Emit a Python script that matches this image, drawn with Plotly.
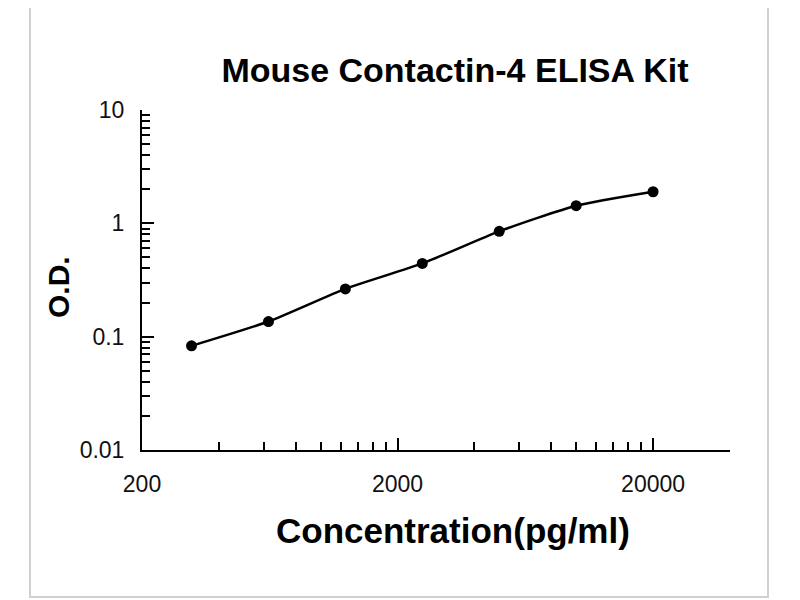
import plotly.graph_objects as go

# standard curve points
conc = [312.5, 625, 1250, 2500, 5000, 10000, 20000]
od = [0.083, 0.136, 0.264, 0.443, 0.85, 1.43, 1.90]

# axis ticks (Excel style log axis, base 200)
x_major = [200, 2000, 20000]
x_labels = ["200", "2000", "20000"]
x_minor = [400, 600, 800, 1000, 1200, 1400, 1600, 1800,
           4000, 6000, 8000, 10000, 12000, 14000, 16000, 18000, 40000]

y_major = [0.01, 0.1, 1, 10]
y_labels = ["0.01", "0.1", "1", "10"]
y_minor = [0.02, 0.03, 0.04, 0.05, 0.06, 0.07, 0.08, 0.09,
           0.2, 0.3, 0.4, 0.5, 0.6, 0.7, 0.8, 0.9,
           2, 3, 4, 5, 6, 7, 8, 9]

# page has an 8px body margin, so the figure is 792x592
OFF = 8
W, H = 800 - OFF, 600 - OFF
L, T = 142 - OFF, 110 - OFF
R, B = W - (730 - OFF), H - (450 - OFF)
PW, PH = W - L - R, H - T - B


def px(x):
    return (x - OFF - L) / PW


def py(y):
    return (H - B - (y - OFF)) / PH


fig = go.Figure()
fig.add_trace(go.Scatter(
    x=conc, y=od,
    mode="lines+markers",
    line=dict(color="black", width=2.5, shape="spline", smoothing=0.6),
    marker=dict(color="black", size=11),
    showlegend=False))

tickfont = dict(family="Liberation Sans, Arial", size=23, color="#111")
boldfont = "Liberation Sans, Arial"

axis_style = dict(
    type="log",
    ticks="inside", ticklen=12, tickwidth=2, tickcolor="black",
    showline=True, linecolor="black", linewidth=2,
    showgrid=False, zeroline=False,
    tickfont=tickfont)

fig.update_xaxes(
    range=[2.30103, 4.60206],
    tickvals=x_major, ticktext=x_labels,
    minor=dict(tickmode="array", tickvals=x_minor, ticks="inside",
               ticklen=8, tickwidth=2, tickcolor="black", showgrid=False),
    ticklabelstandoff=12, **axis_style)

fig.update_yaxes(
    range=[-2, 1],
    tickvals=y_major, ticktext=y_labels,
    minor=dict(tickmode="array", tickvals=y_minor, ticks="inside",
               ticklen=8, tickwidth=2, tickcolor="black", showgrid=False),
    ticklabelstandoff=11, **axis_style)

fig.update_layout(
    width=W, height=H,
    margin=dict(l=L, r=R, t=T, b=B),
    paper_bgcolor="white", plot_bgcolor="white",
    title=dict(text="<b>Mouse Contactin-4 ELISA Kit</b>",
               font=dict(family=boldfont, size=34, color="black"),
               x=(455 - OFF) / W, xanchor="center",
               y=1 - (70 - OFF) / H, yanchor="middle"),
    annotations=[
        dict(text="<b>Concentration(pg/ml)</b>", xref="paper", yref="paper",
             x=px(453), y=py(530), xanchor="center", yanchor="middle",
             showarrow=False, font=dict(family=boldfont, size=35, color="black")),
        dict(text="<b>O.D.</b>", xref="paper", yref="paper", textangle=-90,
             x=px(58), y=py(287), xanchor="center", yanchor="middle",
             showarrow=False, font=dict(family=boldfont, size=30, color="black")),
    ],
    shapes=[dict(type="rect", xref="paper", yref="paper",
                 x0=px(30), x1=px(768), y0=py(597), y1=py(2),
                 line=dict(color="#d0d0d0", width=2), layer="below")])

fig.write_html("out.html")
